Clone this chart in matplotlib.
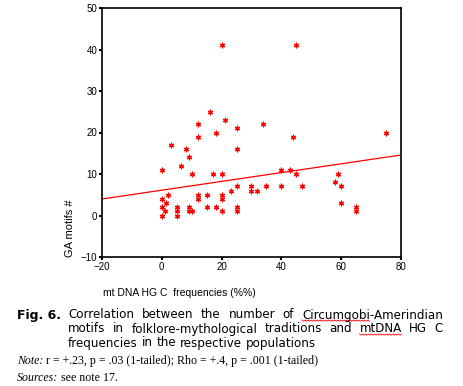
import numpy as np
import matplotlib
matplotlib.use("Agg")
import matplotlib.pyplot as plt
from matplotlib.lines import Line2D

# ---- data ----
hg_c_freq = [20, 45,
             16, 12, 21, 25, 34, 12, 18, 44, 75,
             3, 8, 25, 9, 6.5,
             0, 10, 17, 20, 40, 43, 45, 59,
             58, 25, 35, 40, 47, 60,
             23, 30, 30, 32,
             2, 12, 15, 20,
             0, 12, 20,
             1.5, 60,
             0, 5, 9, 15, 18, 25, 65,
             1, 5, 9, 10, 20, 25, 65,
             0, 5]
ga_motifs = [41, 41,
             25, 22, 23, 21, 22, 19, 20, 19, 20,
             17, 16, 16, 14, 12,
             11, 10, 10, 10, 11, 11, 10, 10,
             8, 7, 7, 7, 7, 7,
             6, 7, 6, 6,
             5, 5, 5, 5,
             4, 4, 4,
             3, 3,
             2, 2, 2, 2, 2, 2, 2,
             1, 1, 1, 1, 1, 1, 1,
             0, 0]
fit_intercept = 6.1
fit_slope = 0.106
x_ticks = [-20, 0, 20, 40, 60, 80]
y_ticks = [-10, 0, 10, 20, 30, 40, 50]

W, H = 464, 386
fig = plt.figure(figsize=(W / 100, H / 100), dpi=100)
fig.patch.set_facecolor("white")

def fx(px):
    return px / W

def fy(py):
    return 1 - py / H

ax = fig.add_axes([fx(102), fy(257), fx(401) - fx(102), fy(8) - fy(257)])
ax.set_xlim(-20, 80)
ax.set_ylim(-10, 50)
ax.set_xticks(x_ticks)
ax.set_yticks(y_ticks)
for s in ax.spines.values():
    s.set_linewidth(1.2)
    s.set_color("black")
ax.tick_params(direction="out", length=2.5, width=1.5, pad=1,
               labelsize=7)
for lab in ax.get_xticklabels() + ax.get_yticklabels():
    lab.set_family("Liberation Sans")

ax.scatter(hg_c_freq, ga_motifs, marker=(6, 2, 0), s=11, color="#ff0000",
           linewidths=0.9, zorder=3, clip_on=False)
xl = np.array([-20, 80])
ax.plot(xl, fit_intercept + fit_slope * xl, color="#ff0000", lw=0.9)

fig.text(fx(70), fy(228), "GA motifs #", rotation=90, ha="center", va="center",
         fontsize=8, family="Liberation Sans")
fig.text(fx(179), fy(293), "mt DNA HG C  frequencies (%%)", ha="center",
         va="center", fontsize=7.5, family="Liberation Sans")

renderer = fig.canvas.get_renderer()
cap_fs = 8.55
cap_family = "DejaVu Sans"

fig.text(fx(17), fy(315), "Fig. 6.", fontweight="bold", fontsize=9.0,
         family=cap_family, ha="left", va="center")

def justified(words, x0, x1, y, justify=True):
    arts = []
    for w in words:
        t = fig.text(0, fy(y), w, fontsize=cap_fs, family=cap_family,
                     ha="left", va="center")
        arts.append(t)
    widths = [a.get_window_extent(renderer).width for a in arts]
    if justify:
        gap = (x1 - x0 - sum(widths)) / (len(words) - 1)
    else:
        gap = renderer.points_to_pixels(cap_fs) * 0.32
    x = x0
    pos = []
    for a, wdt in zip(arts, widths):
        a.set_x(fx(x))
        pos.append((x, wdt))
        x += wdt + gap
    return pos

def squiggle(xa, xb, y):
    xs = np.arange(xa, xb + 0.1, 1.5)
    ys = y + np.where(np.arange(len(xs)) % 2 == 0, 0.0, 1.2)
    fig.add_artist(Line2D([fx(v) for v in xs], [fy(v) for v in ys],
                          color="#ff0000", lw=0.6, transform=fig.transFigure))

def text_width(s):
    t = fig.text(0, 0, s, fontsize=cap_fs, family=cap_family)
    w = t.get_window_extent(renderer).width
    t.remove()
    return w

l1 = "Correlation between the number of Circumgobi-Amerindian".split()
p1 = justified(l1, 68, 443, 315)
squiggle(p1[5][0], p1[5][0] + text_width("Circumgobi"), 320)
l2 = "motifs in folklore-mythological traditions and mtDNA HG C".split()
p2 = justified(l2, 68, 443, 329)
squiggle(p2[5][0], p2[5][0] + p2[5][1], 334)
l3 = "frequencies in the respective populations".split()
justified(l3, 68, 443, 343, justify=False)

note_fs = 8.6
t_note = fig.text(fx(17), fy(361), "Note:", fontstyle="italic", fontsize=note_fs,
                  family="Liberation Serif", ha="left", va="center")
fig.text(fx(17) + t_note.get_window_extent(renderer).width / W, fy(361),
         " r = +.23, p = .03 (1-tailed); Rho = +.4, p = .001 (1-tailed)",
         fontsize=note_fs, family="Liberation Serif", ha="left", va="center")
t_src = fig.text(fx(17), fy(378), "Sources:", fontstyle="italic", fontsize=note_fs,
                 family="Liberation Serif", ha="left", va="center")
fig.text(fx(17) + t_src.get_window_extent(renderer).width / W, fy(378),
         " see note 17.", fontsize=note_fs, family="Liberation Serif",
         ha="left", va="center")

fig.savefig("out.png", dpi=100, facecolor="white")
